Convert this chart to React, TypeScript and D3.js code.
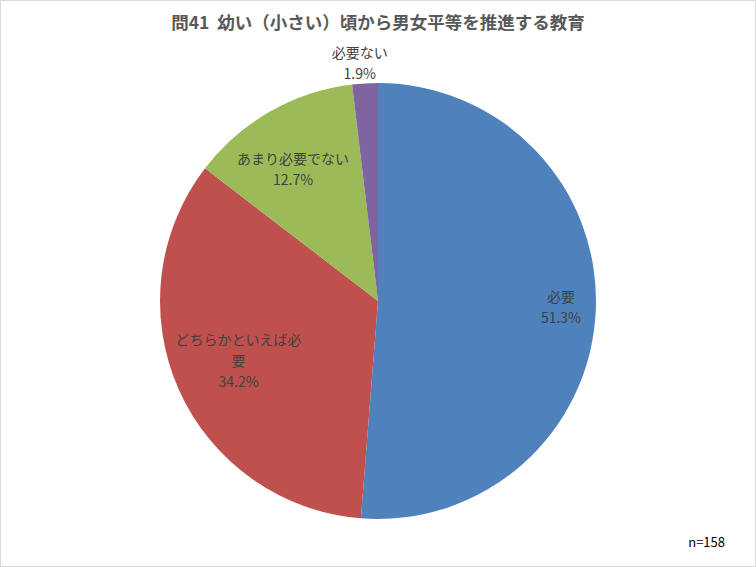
import React from "react";
import * as d3 from "d3";

const categories = ["必要", "どちらかといえば必要", "あまり必要でない", "必要ない"];
const values = [51.3, 34.2, 12.7, 1.9];
const colors = ["#4F81BD", "#C0504D", "#9BBB59", "#8064A2"];
const labelLines = [["必要"], ["どちらかといえば必", "要"], ["あまり必要でない"], ["必要ない"]];
const title = "問41  幼い（小さい）頃から男女平等を推進する教育";
const note = "n=158";

const W = 756, H = 567;
const cx = 378, cy = 301, R = 218;
const font = "'Noto Sans CJK JP', 'Noto Sans', sans-serif";

export default function App() {
  const pie = d3.pie<number>().sort(null).value((d) => d)(values);
  const arc = d3.arc<d3.PieArcDatum<number>>().innerRadius(0).outerRadius(R);
  const labelR = [0.84, 0.7, 0.75, 1.1];
  const labelDx = [0, 0, -4, -4];
  const labelDy = [0, -2, 11, 2];
  return (
    <svg width={W} height={H} style={{ position: "absolute", left: 0, top: 0 }} fontFamily={font}>
      <rect x={0.5} y={0.5} width={W - 1} height={H - 1} fill="#fff" stroke="#D9D9D9" />
      <text x={378} y={29} textAnchor="middle" fontSize={17.5} fontWeight="bold" fill="#595959" style={{ whiteSpace: "pre" }}>{title}</text>
      <g transform={`translate(${cx},${cy})`}>
        {pie.map((p, i) => (
          <path key={i} d={arc(p) || ""} fill={colors[i]} />
        ))}
        {pie.map((p, i) => {
          const a = (p.startAngle + p.endAngle) / 2;
          const r = R * labelR[i];
          const x = Math.sin(a) * r + labelDx[i];
          const y = -Math.cos(a) * r + labelDy[i];
          const lines = [...labelLines[i], values[i].toFixed(1) + "%"];
          const h = lines.length * 21;
          return (
            <text key={i} textAnchor="middle" fontSize={14} fill="#404040">
              {lines.map((l, j) => (
                <tspan key={j} x={x} y={y - h / 2 + 15 + j * 21}>{l}</tspan>
              ))}
            </text>
          );
        })}
      </g>
      <text x={725} y={547} textAnchor="end" fontSize={13} fill="#000">{note}</text>
    </svg>
  );
}
